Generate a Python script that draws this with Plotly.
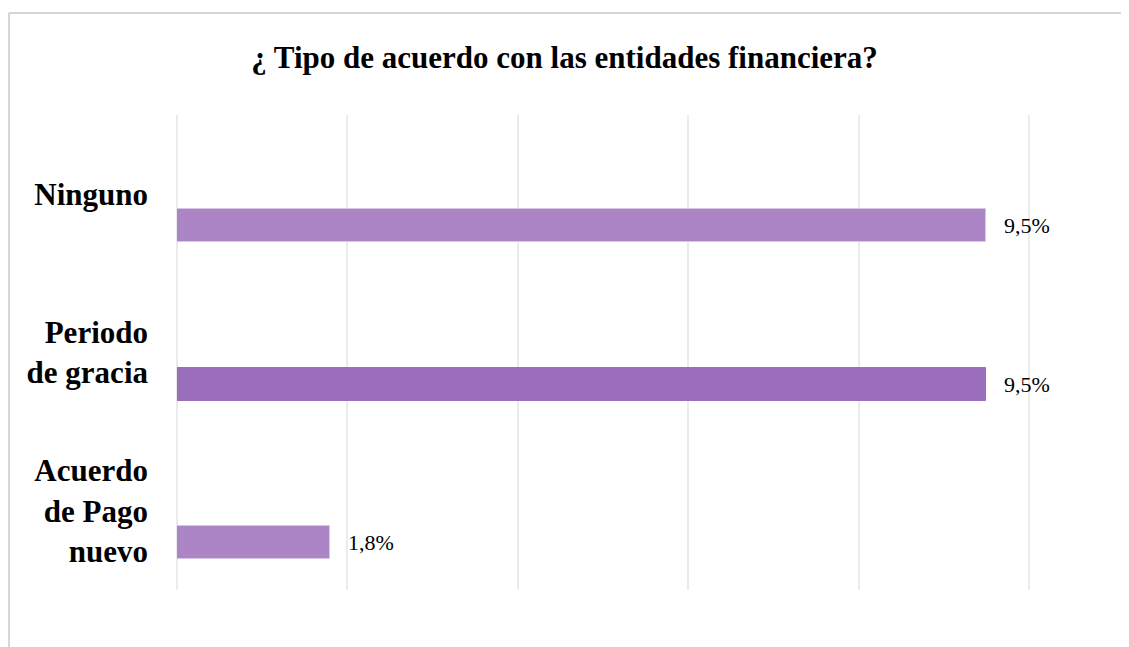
import plotly.graph_objects as go

# datos
categorias = ["Ninguno", "Periodo<br>de gracia", "Acuerdo<br>de Pago<br>nuevo"]
valores = [9.5, 9.5, 1.8]
etiquetas = ["9,5%", "9,5%", "1,8%"]
colores = ["#AB85C6", "#9A6EBA", "#AB85C6"]
bordes = ["#D9C6E6", "#9A6EBA", "#D9C6E6"]

# la página tiene 8px de margen en el body
W, H = 1121, 639
L, R, T, B = 169, 49, 107, 57

fig = go.Figure()
fig.add_trace(go.Bar(
    x=valores, y=categorias, orientation="h",
    marker=dict(color=colores, line=dict(color=bordes, width=1)),
    width=0.21, offset=0.095,
    text=["\u00a0\u00a0\u2009" + e for e in etiquetas], textposition="outside",
    cliponaxis=False,
    textfont=dict(family="Liberation Serif", size=22, color="#000000"),
    hoverinfo="skip",
))

fig.update_layout(
    width=W, height=H,
    margin=dict(l=L, r=R, t=T, b=B, pad=0),
    paper_bgcolor="white", plot_bgcolor="white",
    showlegend=False,
    title=dict(text="<b>¿ Tipo de acuerdo con las entidades financiera?</b>",
               x=(1129 / 2 - 8) / W, xanchor="center", y=1 - 49 / H, yanchor="middle",
               font=dict(family="Liberation Serif", size=31, color="#000000")),
    xaxis=dict(range=[0, 10.6], tickvals=[0, 2, 4, 6, 8, 10], showticklabels=False,
               showgrid=True, gridcolor="#EBEBEB", gridwidth=1.5,
               zeroline=True, zerolinecolor="#EBEBEB", zerolinewidth=1.5,
               showline=False, fixedrange=True),
    yaxis=dict(autorange="reversed", showgrid=False, showline=False, ticks="",
               ticklabelstandoff=28,
               tickfont=dict(family="Liberation Serif", size=31, color="#000000"),
               fixedrange=True),
    bargap=0,
)
# etiquetas en negrita
fig.update_yaxes(ticktext=["<b>" + c + "</b>" for c in categorias], tickvals=categorias)

# marco exterior (solo borde superior e izquierdo visibles)
pw, ph = W - L - R, H - T - B
x0 = (1 - L) / pw
y1 = (H - B - 5) / ph
fig.add_shape(type="line", xref="paper", yref="paper", x0=x0, x1=(W - L) / pw + 0.01,
              y0=y1, y1=y1, line=dict(color="#D9D5D7", width=2))
fig.add_shape(type="line", xref="paper", yref="paper", x0=x0, x1=x0,
              y0=y1, y1=-B / ph - 0.01, line=dict(color="#D9D5D7", width=2))

fig.write_html("out.html")
